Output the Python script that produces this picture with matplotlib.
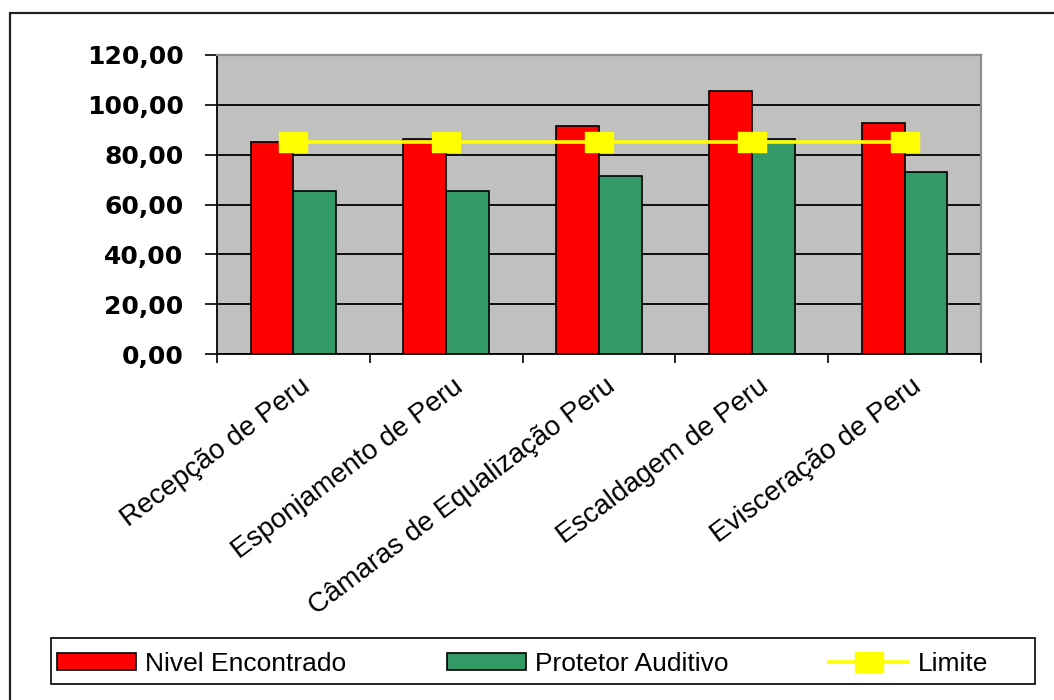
import matplotlib
matplotlib.use("Agg")
import matplotlib.pyplot as plt
import matplotlib.transforms as mtransforms
from matplotlib.patches import Rectangle
from matplotlib.path import Path
import numpy as np

categories = [
    "Recepção de Peru",
    "Esponjamento de Peru",
    "Câmaras de Equalização Peru",
    "Escaldagem de Peru",
    "Evisceração de Peru",
]
nivel_encontrado = [85.2, 86.1, 91.6, 105.7, 92.7]
protetor_auditivo = [65.4, 65.4, 71.3, 86.1, 72.9]
limite = [85.0, 85.0, 85.0, 85.0, 85.0]
y_ticks = [0, 20, 40, 60, 80, 100, 120]
y_tick_labels = ["0,00", "20,00", "40,00", "60,00", "80,00", "100,00", "120,00"]

RED = "#FF0000"
GREEN = "#339966"
YELLOW = "#FFFF00"
PLOT_BG = "#C0C0C0"

W, H = 1054, 700
fig = plt.figure(figsize=(W / 100, H / 100), dpi=100)
fig.patch.set_facecolor("white")

# outer chart frame
fig.patches.append(Rectangle((10 / W, -0.05), 1.1, (H - 13) / H + 0.05,
                             transform=fig.transFigure, fill=False,
                             edgecolor="#202020", linewidth=1.6, clip_on=False))

ax = fig.add_axes([217 / W, (H - 354) / H, (981 - 217) / W, (354 - 55) / H])
ax.set_facecolor(PLOT_BG)

x = np.arange(len(categories))
bw = 0.28
b1 = ax.bar(x - bw / 2, nivel_encontrado, bw, color=RED, edgecolor="black",
            linewidth=1.2, label="Nivel Encontrado", zorder=3)
b2 = ax.bar(x + bw / 2, protetor_auditivo, bw, color=GREEN, edgecolor="black",
            linewidth=1.2, label="Protetor Auditivo", zorder=3)

# wide square markers
rect_marker = Path([(-1.35, -1), (1.35, -1), (1.35, 1), (-1.35, 1), (-1.35, -1)],
                   [Path.MOVETO, Path.LINETO, Path.LINETO, Path.LINETO, Path.CLOSEPOLY])
(ln,) = ax.plot(x, limite, color=YELLOW, linewidth=2.6, marker=rect_marker,
                markersize=20, markerfacecolor=YELLOW, markeredgecolor=YELLOW,
                label="Limite", zorder=4)

ax.set_xlim(-0.5, len(categories) - 0.5)
ax.set_ylim(0, 120)

ax.set_yticks(y_ticks)
ax.set_yticklabels(y_tick_labels, fontsize=18, fontweight="bold",
                   family="DejaVu Sans")
ax.yaxis.grid(True, color="black", linewidth=1.3, zorder=1)
ax.set_axisbelow(True)
ax.tick_params(axis="y", direction="out", length=9, width=1.2, pad=15,
               colors="black")

ax.set_xticks(x)
ax.set_xticklabels(categories, rotation=37, ha="right", rotation_mode="anchor",
                   fontsize=20, family="Liberation Sans")
ax.set_xticks(np.arange(len(categories) + 1) - 0.5, minor=True)
ax.tick_params(axis="x", which="major", length=0, pad=14)
ax.tick_params(axis="x", which="minor", direction="out", length=6.5, width=1.2)
offset = mtransforms.ScaledTranslation(6 / 100, 0, fig.dpi_scale_trans)
for lab in ax.get_xticklabels():
    lab.set_transform(lab.get_transform() + offset)

for side in ("left", "bottom"):
    ax.spines[side].set_color("black")
    ax.spines[side].set_linewidth(1.3)
for side in ("top", "right"):
    ax.spines[side].set_color("#8C8C8C")
    ax.spines[side].set_linewidth(1.6)

# legend box
fig.patches.append(Rectangle((51 / W, (H - 684) / H), (1035 - 51) / W, 46 / H,
                             transform=fig.transFigure, fill=True,
                             facecolor="white", edgecolor="black",
                             linewidth=1.2, zorder=2))
leg = fig.legend(handles=[b1, b2, ln],
                 labels=["Nivel Encontrado", "Protetor Auditivo", "Limite"],
                 loc="center left", ncol=3,
                 bbox_to_anchor=(57 / W, (H - 664) / H),
                 frameon=False,
                 prop={"family": "Liberation Sans", "size": 19},
                 handlelength=3.0, handleheight=0.6, handletextpad=0.35,
                 borderpad=0.0, columnspacing=3.8, borderaxespad=0)
leg.set_zorder(3)

fig.savefig("out.png", dpi=100)
